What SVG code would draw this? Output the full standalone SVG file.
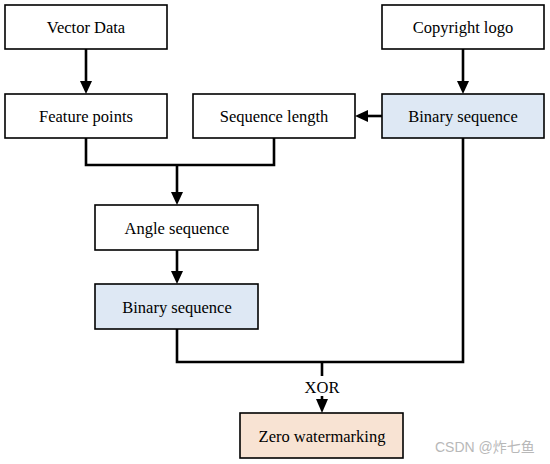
<svg xmlns="http://www.w3.org/2000/svg" width="550" height="464" viewBox="0 0 550 464">
<style>
.box{stroke:#000;stroke-width:1.6;fill:#fff}
.blue{fill:#dee8f4}
.peach{fill:#f8e3d3}
.t{font-family:"Liberation Serif","Times New Roman",serif;font-size:16.5px;fill:#000;text-anchor:middle}
.c{fill:none;stroke:#000;stroke-width:2.6}
.h{fill:#000}
</style>
<rect width="550" height="464" fill="#fff"/>
<g id="connectors">
<path class="c" d="M86 49V82"/><polygon class="h" points="80,81 92,81 86,94"/>
<path class="c" d="M463 49V82"/><polygon class="h" points="457,81 469,81 463,94"/>
<path class="c" d="M382 116H367"/><polygon class="h" points="368,110 368,122 355,116"/>
<path class="c" d="M86 138V165H274V138M177 165V193"/><polygon class="h" points="171,192 183,192 177,205"/>
<path class="c" d="M177 250V272"/><polygon class="h" points="171,271 183,271 177,284"/>
<path class="c" d="M177 329V362H463V138M322 362V376"/>
<path class="c" d="M322 396V401"/><polygon class="h" points="316,399 328,399 322,413"/>
<text class="t" x="322" y="393">XOR</text>
</g>
<g id="vector-data"><rect class="box" x="5" y="5" width="162" height="44"/><text class="t" x="86" y="33">Vector Data</text></g>
<g id="copyright-logo"><rect class="box" x="382" y="5" width="162" height="44"/><text class="t" x="463" y="33">Copyright logo</text></g>
<g id="feature-points"><rect class="box" x="5" y="94" width="162" height="44"/><text class="t" x="86" y="122">Feature points</text></g>
<g id="sequence-length"><rect class="box" x="193" y="94" width="162" height="44"/><text class="t" x="274" y="122">Sequence length</text></g>
<g id="binary-sequence-1"><rect class="box blue" x="382" y="94" width="162" height="44"/><text class="t" x="463" y="122">Binary sequence</text></g>
<g id="angle-sequence"><rect class="box" x="95" y="205" width="163" height="45"/><text class="t" x="177" y="234">Angle sequence</text></g>
<g id="binary-sequence-2"><rect class="box blue" x="95" y="284" width="163" height="45"/><text class="t" x="177" y="313">Binary sequence</text></g>
<g id="zero-watermarking"><rect class="box peach" x="240" y="413" width="163" height="45"/><text class="t" x="322" y="442">Zero watermarking</text></g>
<text x="435" y="452" font-family="'Liberation Sans','Noto Sans CJK SC',sans-serif" font-size="14" fill="#b8b8b8">CSDN @炸七鱼</text>
</svg>
